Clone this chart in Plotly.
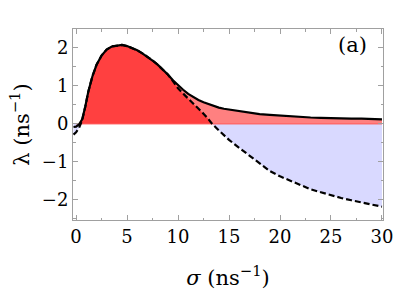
import numpy as np
import plotly.graph_objects as go

# sigma grid (ns^-1)
sigma = [-0.25, 0.0, 0.3, 0.6, 0.9, 1.2, 1.6, 2.0, 2.5, 3.0, 3.5, 4.0, 4.5, 5.0,
         5.5, 6.0, 6.5, 7.0, 7.5, 8.0, 8.5, 9.0, 9.5, 10.0, 10.5, 11.0, 11.5,
         12.0, 12.5, 13.0, 13.35, 14.0, 14.5, 15.0, 16.0, 17.0, 18.0, 19.0,
         20.0, 21.0, 22.0, 23.0, 24.0, 25.0, 26.0, 27.0, 28.0, 29.0, 30.0]

# upper (solid) curve
lam_solid = [-0.08, -0.07, -0.01, 0.12, 0.45, 0.85, 1.25, 1.55, 1.80, 1.96, 2.04,
             2.07, 2.08, 2.05, 2.00, 1.94, 1.86, 1.77, 1.67, 1.56, 1.44, 1.30,
             1.15, 1.02, 0.90, 0.79, 0.70, 0.63, 0.57, 0.52, 0.49, 0.43, 0.40,
             0.38, 0.33, 0.29, 0.26, 0.24, 0.22, 0.20, 0.19, 0.17, 0.16, 0.15,
             0.15, 0.14, 0.14, 0.13, 0.12]

# lower (dashed) curve
lam_dashed = [-0.28, -0.22, -0.10, 0.10, 0.45, 0.85, 1.25, 1.55, 1.80, 1.96, 2.04,
              2.07, 2.08, 2.05, 2.00, 1.94, 1.86, 1.77, 1.67, 1.56, 1.44, 1.30,
              1.13, 0.94, 0.80, 0.67, 0.53, 0.40, 0.27, 0.12, 0.0, -0.17, -0.30,
              -0.42, -0.63, -0.84, -1.05, -1.24, -1.38, -1.49, -1.61, -1.72,
              -1.80, -1.88, -1.95, -2.01, -2.07, -2.12, -2.18]

x_ticks = [0, 5, 10, 15, 20, 25, 30]
y_ticks = [-2, -1, 0, 1, 2]

s = np.array(sigma)
ys = np.array(lam_solid)
yd = np.array(lam_dashed)

c_dark = "rgb(255,64,64)"
c_light = "rgb(255,128,128)"
c_blue = "rgb(217,217,255)"

fig = go.Figure()
fig.add_trace(go.Scatter(x=s, y=np.maximum(ys, 0), fill="tozeroy", fillcolor=c_light,
                         mode="none", hoverinfo="skip", showlegend=False))
fig.add_trace(go.Scatter(x=s, y=np.maximum(yd, 0), fill="tozeroy", fillcolor=c_dark,
                         mode="none", hoverinfo="skip", showlegend=False))
fig.add_trace(go.Scatter(x=s, y=np.minimum(yd, 0), fill="tozeroy", fillcolor=c_blue,
                         mode="none", hoverinfo="skip", showlegend=False))
fig.add_trace(go.Scatter(x=[0, 30], y=[0, 0], mode="lines",
                         line=dict(color="rgb(255,90,90)", width=1),
                         hoverinfo="skip", showlegend=False))
fig.add_trace(go.Scatter(x=s, y=yd, mode="lines",
                         line=dict(color="black", width=2.2, dash="6px,3px"),
                         showlegend=False))
fig.add_trace(go.Scatter(x=s, y=ys, mode="lines",
                         line=dict(color="black", width=2.2),
                         showlegend=False))

font = "DejaVu Serif"
axis_common = dict(
    showline=True, linecolor="#a0a0a0", linewidth=1, mirror="allticks",
    ticks="inside", ticklen=5, tickcolor="#a0a0a0", tickwidth=1,
    showgrid=False, zeroline=False, automargin=False,
    tickfont=dict(family=font, size=18, color="black"),
)

fig.update_xaxes(range=[-0.3, 30.1], tickvals=x_ticks, ticktext=[str(v) for v in x_ticks],
                 minor=dict(ticks="inside", ticklen=2.5, dtick=2.5, tick0=0, tickcolor="#a0a0a0"),
                 title=dict(text="<i>σ</i> (ns<sup>−1</sup>)", font=dict(family=font, size=21, color="black"),
                            standoff=24),
                 **axis_common)
fig.update_yaxes(range=[-2.53, 2.5], tickvals=y_ticks,
                 ticktext=["−2", "−1", "0", "1", "2"],
                 minor=dict(ticks="inside", ticklen=2.5, dtick=0.5, tick0=0, tickcolor="#a0a0a0"),
                 title=dict(text="λ (ns<sup>−1</sup>)", font=dict(family=font, size=21, color="black"),
                            standoff=6),
                 **axis_common)

fig.add_annotation(x=0.955, y=0.915, xref="paper", yref="paper", text="(a)",
                   showarrow=False, xanchor="right", yanchor="middle",
                   font=dict(family=font, size=21, color="black"))

fig.update_layout(width=397, height=290, margin=dict(l=73, r=14, t=29, b=70),
                  plot_bgcolor="white", paper_bgcolor="white",
                  font=dict(family=font, color="black"))

fig.write_html("out.html", config={"displayModeBar": False},
               post_script="document.body.style.margin='0px';document.body.style.overflow='hidden';")
